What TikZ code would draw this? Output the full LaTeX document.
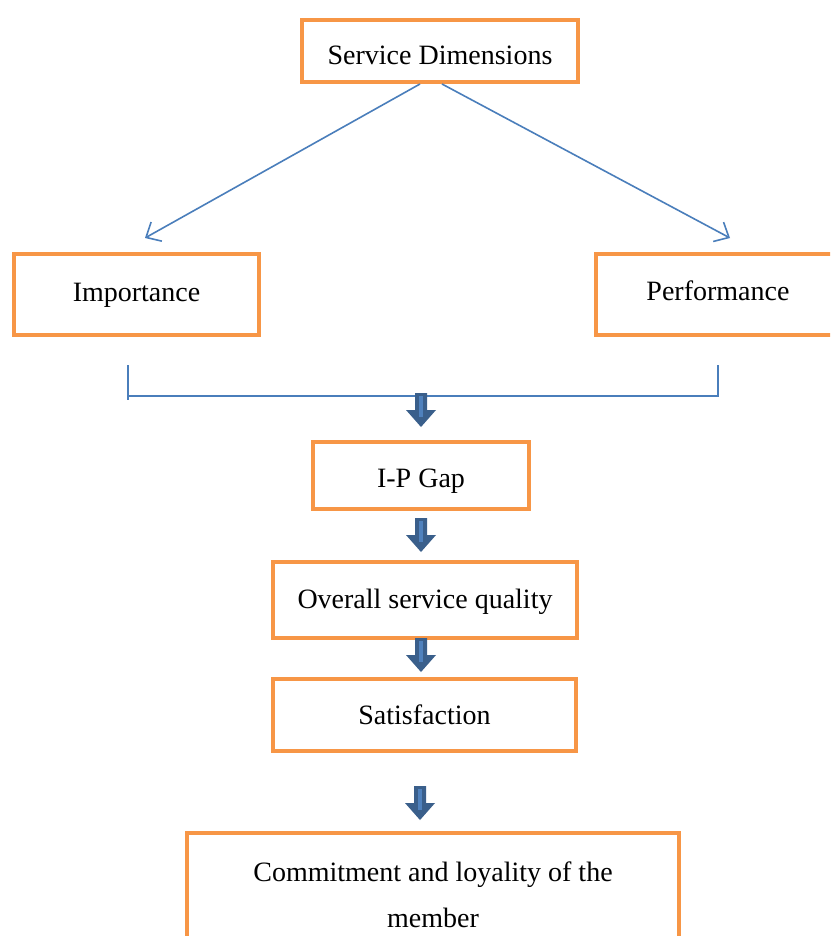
\documentclass[tikz,border=0pt]{standalone}
\usepackage{fontspec}
\setmainfont{Liberation Serif}
\usetikzlibrary{arrows.meta}
\definecolor{boxorange}{HTML}{F79646}
\definecolor{lineblue}{HTML}{4A7EBB}
\definecolor{arrowdark}{HTML}{3A5F8B}
\definecolor{arrowlight}{HTML}{4F81BD}
\begin{document}
\begin{tikzpicture}[x=1pt,y=-1pt,
  box/.style={draw=boxorange, line width=4pt, fill=white, inner sep=0pt,
    align=center, text depth=6pt, text height=19pt, font=\fontsize{28}{46}\selectfont},
  link/.style={draw=lineblue, line width=1.6pt},
  tiparrow/.style={link, -{Straight Barb[length=12pt,width=22pt,line width=1.6pt]}},
  blockarrow/.pic={
    \fill[arrowdark] (-6,0) -- (6,0) -- (6,17) -- (15,17) -- (0,34) -- (-15,17) -- (-6,17) -- cycle;
    \fill[arrowlight] (-1.8,3) rectangle (1.8,24);
  }]
\clip (0,0) rectangle (830,936);
\fill[white] (0,0) rectangle (830,936);

\node[box, minimum width=276pt, minimum height=62pt, text height=34pt] (sd) at (440,51) {Service Dimensions};
\node[box, minimum width=245pt, minimum height=81pt] (imp) at (136.5,294.5) {Importance};
\node[box, minimum width=244pt, minimum height=81pt, text height=18pt] (perf) at (718,294.5) {Performance};
\node[box, minimum width=216pt, minimum height=67pt, text height=29pt] (gap) at (421,475.5) {I-P Gap};
\node[box, minimum width=304pt, minimum height=76pt, text height=22pt] (osq) at (425,600) {Overall service quality};
\node[box, minimum width=303pt, minimum height=72pt, text height=24pt] (sat) at (424.5,715) {Satisfaction};
\node[box, minimum width=492pt, minimum height=170pt, text height=19pt, text depth=0pt] (com) at (433,918) {Commitment and loyality of the\\member};

\draw[tiparrow] ([xshift=-20pt]sd.south) -- ([shift={(8.5,-14)}]imp.north);
\draw[tiparrow] ([xshift=2pt]sd.south) -- ([shift={(12,-14)}]perf.north);

\coordinate (bl) at (128,365);
\coordinate (blc) at (128,396);
\coordinate (brc) at (718,396);
\coordinate (br) at (718,365);
\draw[link] (bl) -- ([yshift=-4pt]blc);
\draw[link] ([xshift=-1pt]blc) -- (brc) -- (br);

\coordinate (a1) at (421,393);
\coordinate (a2) at (421,518);
\coordinate (a3) at (421,638);
\coordinate (a4) at (420,786);
\pic at (a1) {blockarrow};
\pic at (a2) {blockarrow};
\pic at (a3) {blockarrow};
\pic at (a4) {blockarrow};
\end{tikzpicture}
\end{document}
